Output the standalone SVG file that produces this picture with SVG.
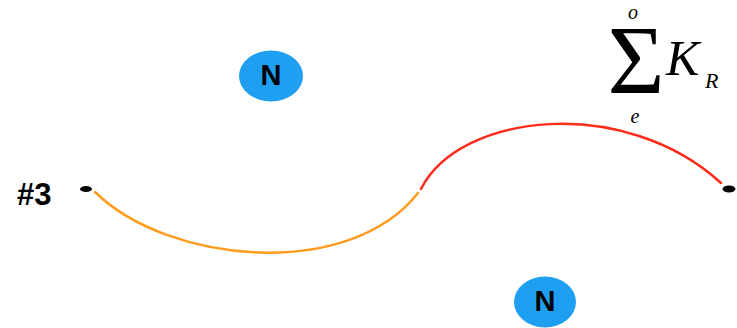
<svg xmlns="http://www.w3.org/2000/svg" width="737" height="328" viewBox="0 0 737 328">
<style>
.bub{fill:#1E9FF2}
.nl{font-family:"Liberation Sans",Arial,sans-serif;font-weight:bold;font-size:29px;fill:#000;text-anchor:middle}
.dot{fill:#000}
.math{font-family:"Liberation Serif","Times New Roman",serif;font-style:italic;fill:#000}
.curve{fill:none;stroke-width:2.5;stroke-linecap:round}
</style>
<rect width="737" height="328" fill="#fff"/>
<g id="connectors">
<path class="curve" stroke="#FF9C1E" d="M95,192 C170,265 350,280 418,193"/>
<path class="curve" stroke="#FF2B1B" d="M421,189 C460,112 625,95 721,183"/>
</g>
<g id="node-n1">
<ellipse class="bub" cx="271" cy="76" rx="32" ry="25.5"/>
<text class="nl" x="271" y="85">N</text>
</g>
<g id="node-n2">
<ellipse class="bub" cx="545" cy="302" rx="31" ry="25.5"/>
<text class="nl" x="545" y="311">N</text>
</g>
<g id="node-left">
<ellipse class="dot" cx="86" cy="189" rx="6" ry="3"/>
<text x="17" y="205" font-family="Liberation Sans,Arial,sans-serif" font-weight="bold" font-size="31" fill="#000">#3</text>
</g>
<g id="node-right">
<ellipse class="dot" cx="729" cy="189" rx="6.5" ry="3.5"/>
</g>
<g id="formula">
<text x="636" y="93" font-family="Liberation Serif,Times New Roman,serif" font-size="98" text-anchor="middle" fill="#000">Σ</text>
<text class="math" x="633" y="19" font-size="20" text-anchor="middle">o</text>
<text class="math" x="635" y="123" font-size="20" text-anchor="middle">e</text>
<text class="math" x="666" y="75" font-size="50">K</text>
<text class="math" x="705" y="88" font-size="22">R</text>
</g>
</svg>
